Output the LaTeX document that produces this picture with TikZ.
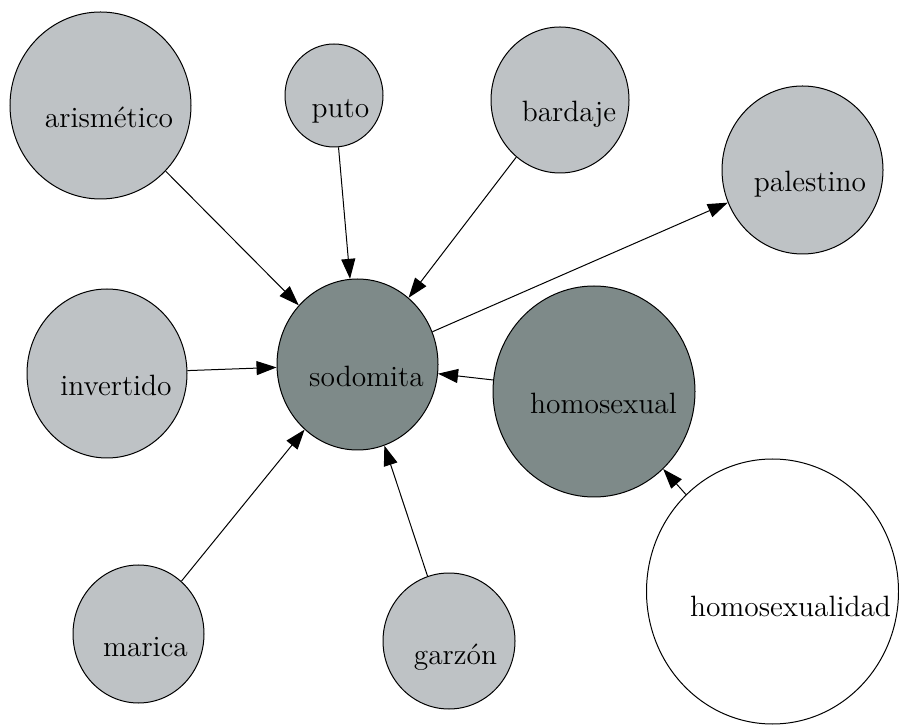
\documentclass[tikz,border=0pt]{standalone}
\usetikzlibrary{shapes.geometric,arrows.meta}
\definecolor{lightnode}{RGB}{190,194,197}
\definecolor{darknode}{RGB}{126,138,137}
\begin{document}
\begin{tikzpicture}[x=0.5pt,y=-0.5pt,
  term/.style={ellipse,draw=black,line width=0.5pt,inner sep=0pt},
  lightterm/.style={term,fill=lightnode},
  darkterm/.style={term,fill=darknode},
  plainterm/.style={term,fill=white},
  lbl/.style={anchor=base,inner sep=0pt,font=\fontsize{14.7}{17}\selectfont},
  link/.style={line width=0.5pt,-{Triangle[length=10pt,width=7pt]}}]
\useasboundingbox (0,0) rectangle (899,726);
% circles
\node[lightterm,minimum width=90.5pt,minimum height=93.5pt] (ari) at (100.5,105.5) {};
\node[lightterm,minimum width=49pt,minimum height=51.5pt] (puto) at (334,95.5) {};
\node[lightterm,minimum width=69pt,minimum height=73pt] (bard) at (560,100) {};
\node[lightterm,minimum width=80.5pt,minimum height=84pt] (pal) at (802.5,170) {};
\node[lightterm,minimum width=80pt,minimum height=84.5pt] (inv) at (107,373.5) {};
\node[darkterm,minimum width=80.5pt,minimum height=85.5pt] (sod) at (357.5,364.5) {};
\node[darkterm,minimum width=101pt,minimum height=105.5pt] (homo) at (594,391.5) {};
\node[plainterm,minimum width=126pt,minimum height=132.5pt] (hdad) at (772.5,591.5) {};
\node[lightterm,minimum width=65.5pt,minimum height=69pt] (mar) at (138.5,634) {};
\node[lightterm,minimum width=66pt,minimum height=68pt] (gar) at (449,641) {};
% labels
\node[lbl] (tari) at (109,128) {arismético};
\node[lbl] (tputo) at (340.5,118) {puto};
\node[lbl] (tbard) at (569,121.5) {bardaje};
\node[lbl] (tpal) at (810,191.5) {palestino};
\node[lbl] (tinv) at (116,396) {invertido};
\node[lbl] (tsod) at (366.5,386.5) {sodomita};
\node[lbl] (thomo) at (603.5,414) {homosexual};
\node[lbl] (thdad) at (790.5,616.5) {homosexualidad};
\node[lbl] (tmar) at (145.5,656) {marica};
\node[lbl] (tgar) at (455.5,664) {garzón};
% links
\draw[link] (ari) -- (sod);
\draw[link] (puto) -- (sod);
\draw[link] (bard) -- (sod);
\draw[link] (sod) -- (pal);
\draw[link] (inv) -- (sod);
\draw[link] (homo) -- (sod);
\draw[link] (hdad) -- (homo);
\draw[link] (mar) -- (sod);
\draw[link] (gar) -- (sod);
\end{tikzpicture}
\end{document}
